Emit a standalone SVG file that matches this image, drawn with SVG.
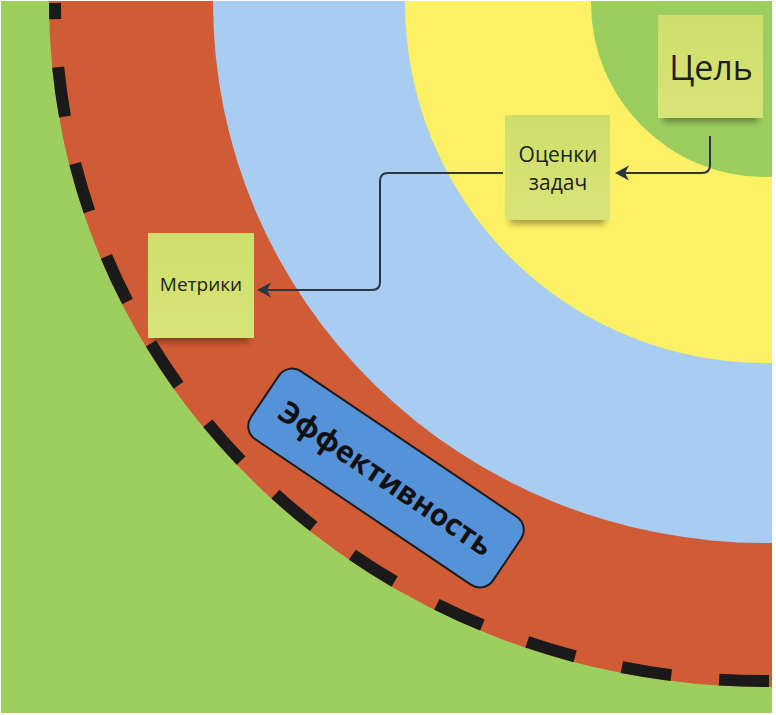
<svg xmlns="http://www.w3.org/2000/svg" width="776" height="715" viewBox="0 0 776 715">
<style>
text{font-family:"Open Sans","Noto Sans","DejaVu Sans",sans-serif;}
.nt{fill:#1e1e1e;text-anchor:middle;font-weight:500}
.note{fill:url(#noteFill)}
.shadow{fill:#000;opacity:0.35}
.conn{fill:none;stroke:#2e3440;stroke-width:2}
</style>
<defs>
<clipPath id="frame"><rect x="1" y="1" width="771" height="712"/></clipPath>
<linearGradient id="noteFill" x1="0" y1="0" x2="0" y2="1">
<stop offset="0" stop-color="#cfde6b"/><stop offset="1" stop-color="#d8e477"/>
</linearGradient>
<filter id="sh" x="-20%" y="-60%" width="140%" height="220%"><feGaussianBlur stdDeviation="3"/></filter>
<marker id="arr" markerUnits="userSpaceOnUse" markerWidth="18" markerHeight="18" refX="13" refY="9" orient="auto">
<path d="M1,1.5 L15,9 L1,16.5 L5,9 Z" fill="#2e3440"/>
</marker>
</defs>
<rect width="776" height="715" fill="#ffffff"/>
<g id="rings" clip-path="url(#frame)">
<rect x="0" y="0" width="776" height="715" fill="#9dcf5f"/>
<ellipse cx="765" cy="3" rx="716" ry="684" fill="#d05b35"/>
<ellipse cx="765" cy="3" rx="552" ry="540" fill="#a9cdf0"/>
<circle cx="765" cy="3" r="360" fill="#fcf064"/>
<circle cx="765" cy="3" r="174" fill="#9ccd5f"/>
<path d="M772,681 A710,678 0 0 1 55,3" fill="none" stroke="#1a1a1a" stroke-width="12" stroke-dasharray="50 48" stroke-dashoffset="95"/>
</g>
<g id="connectors">
<path class="conn" d="M710,136 V165 Q710,173 702,173 H617" marker-end="url(#arr)"/>
<path class="conn" d="M503,173 H388 Q380,173 380,181 V282 Q380,290 372,290 H259" marker-end="url(#arr)"/>
</g>
<g id="node-cel">
<rect class="shadow" x="663" y="106" width="95" height="16" filter="url(#sh)"/>
<rect class="note" x="658" y="15" width="105" height="103"/>
<text class="nt" x="711" y="80" font-size="34">Цель</text>
</g>
<g id="node-ocenki">
<rect class="shadow" x="510" y="208" width="95" height="16" filter="url(#sh)"/>
<rect class="note" x="505" y="115" width="105" height="105"/>
<text class="nt" x="558" y="162" font-size="21">Оценки</text>
<text class="nt" x="558" y="190" font-size="21">задач</text>
</g>
<g id="node-metriki">
<rect class="shadow" x="153" y="326" width="96" height="16" filter="url(#sh)"/>
<rect class="note" x="148" y="233" width="106" height="105"/>
<text class="nt" x="201" y="291" font-size="19">Метрики</text>
</g>
<g id="node-effektivnost" transform="translate(386,478) rotate(34)">
<rect x="-146" y="-41" width="292" height="82" rx="16" fill="#5592d8" stroke="#1c1c1c" stroke-width="2"/>
<text x="0" y="11" font-size="30" font-weight="700" text-anchor="middle" fill="#111111">Эффективность</text>
</g>
</svg>
